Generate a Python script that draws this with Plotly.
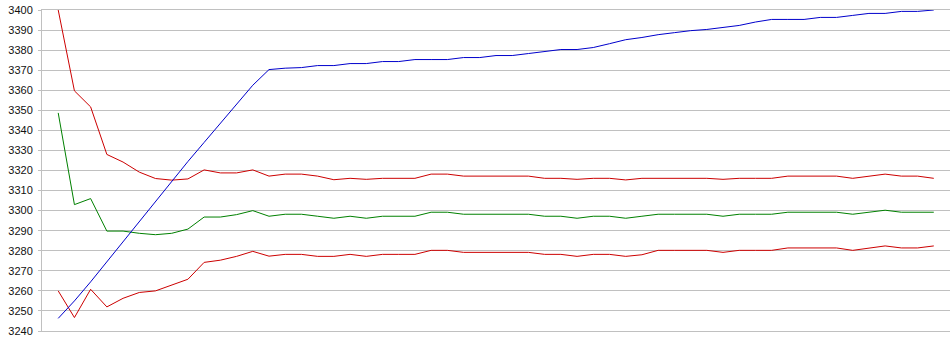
import plotly.graph_objects as go

# x positions are sample indices 0..54
n_points = 55
x_vals = list(range(n_points))

blue_vals = [3246.3, 3255, 3264.5, 3274.5, 3285, 3295, 3305, 3315, 3324.5, 3334,
             3343.5, 3353.5, 3362.5, 3370.3, 3371, 3371.3, 3372.3, 3372.3, 3373.3, 3373.3,
             3374.3, 3374.3, 3375.3, 3375.3, 3375.3, 3376.3, 3376.3, 3377.3, 3377.3, 3378.3,
             3379.3, 3380.3, 3380.3, 3381.3, 3383.2, 3385.2, 3386.3, 3387.7, 3388.7, 3389.7,
             3390.3, 3391.2, 3392.3, 3394, 3395.3, 3395.3, 3395.3, 3396.3, 3396.3, 3397.3,
             3398.3, 3398.3, 3399.3, 3399.3, 3400]

green_vals = [3348.7, 3303, 3306, 3289.8, 3289.8, 3288.7, 3288, 3288.7, 3290.8, 3296.8,
              3296.8, 3298, 3300, 3297.2, 3298.2, 3298.2, 3297.2, 3296.2, 3297.2, 3296.2,
              3297.2, 3297.2, 3297.2, 3299.2, 3299.2, 3298.2, 3298.2, 3298.2, 3298.2, 3298.2,
              3297.2, 3297.2, 3296.2, 3297.2, 3297.2, 3296.2, 3297.2, 3298.2, 3298.2, 3298.2,
              3298.2, 3297.2, 3298.2, 3298.2, 3298.2, 3299.2, 3299.2, 3299.2, 3299.2, 3298.2,
              3299.2, 3300.2, 3299.2, 3299.2, 3299.2]

red_upper_vals = [3400, 3359.7, 3351.7, 3328, 3324.2, 3319.2, 3316, 3315.2, 3315.8, 3320.3,
                  3318.8, 3318.8, 3320.3, 3317.2, 3318.2, 3318.2, 3317.2, 3315.4, 3316.1, 3315.6,
                  3316.1, 3316.1, 3316.1, 3318.2, 3318.2, 3317.2, 3317.2, 3317.2, 3317.2, 3317.2,
                  3316.1, 3316.1, 3315.6, 3316.1, 3316.1, 3315.3, 3316.1, 3316.1, 3316.1, 3316.1,
                  3316.1, 3315.6, 3316.1, 3316.1, 3316.1, 3317.2, 3317.2, 3317.2, 3317.2, 3316.1,
                  3317.2, 3318.2, 3317.2, 3317.2, 3316.1]

red_lower_vals = [3260, 3246.7, 3260.8, 3252, 3256.3, 3259.2, 3260, 3262.8, 3265.8, 3274.2,
                  3275.3, 3277.2, 3279.7, 3277.3, 3278.2, 3278.2, 3277.2, 3277.2, 3278.2, 3277.2,
                  3278.2, 3278.2, 3278.2, 3280.2, 3280.2, 3279.2, 3279.2, 3279.2, 3279.2, 3279.2,
                  3278.2, 3278.2, 3277.2, 3278.2, 3278.2, 3277.2, 3278.0, 3280.2, 3280.2, 3280.2,
                  3280.2, 3279.2, 3280.2, 3280.2, 3280.2, 3281.4, 3281.4, 3281.4, 3281.4, 3280.2,
                  3281.4, 3282.4, 3281.4, 3281.4, 3282.4]

y_ticks = list(range(3240, 3401, 10))

series = [
    (red_upper_vals, "#cc0000"),
    (green_vals, "#008000"),
    (red_lower_vals, "#cc0000"),
    (blue_vals, "#0000cc"),
]

fig = go.Figure()
for vals, col in series:
    fig.add_trace(go.Scatter(x=x_vals, y=vals, mode="lines",
                             line=dict(color=col, width=1), hoverinfo="skip"))

fig.update_layout(
    width=950, height=355,
    margin=dict(l=42, r=0, t=10, b=24, pad=0),
    paper_bgcolor="white", plot_bgcolor="white",
    showlegend=False,
    font=dict(family="Liberation Sans, Arial, sans-serif", size=11, color="#111111"),
)
fig.update_xaxes(range=[-1, 55], showgrid=False, showticklabels=False, zeroline=False,
                 showline=True, linecolor="#c0c0c0", linewidth=1, mirror=True, ticks="",
                 automargin=False)
fig.update_yaxes(range=[3240, 3400], tickvals=y_ticks, ticktext=[str(v) for v in y_ticks],
                 showgrid=True, gridcolor="#c0c0c0", gridwidth=1, zeroline=False,
                 showline=True, linecolor="#c0c0c0", linewidth=1,
                 ticks="outside", ticklen=3, tickcolor="#c0c0c0", ticklabelstandoff=3,
                 ticklabeloverflow="allow", automargin=False)

# remove the default 8px page margin so the figure sits at the window's corner
fig.write_html("out.html", config={"displayModeBar": False},
               post_script="document.body.style.margin='0';")
